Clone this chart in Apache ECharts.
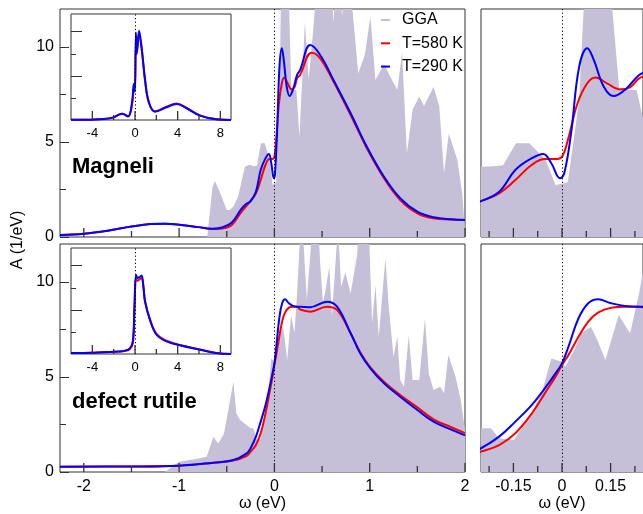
<!DOCTYPE html>
<html>
<head>
<meta charset="utf-8">
<script src="https://cdn.jsdelivr.net/npm/echarts@6/dist/echarts.min.js"></script>
<style>
html,body{margin:0;padding:0;background:#fff;}
#c{width:643px;height:514px;}
</style>
</head>
<body>
<div id="c"></div>
<script>
// ---------- DATA ----------
// Magneli, main panels
const magGGA_x = [-2.25, -0.705, -0.65, -0.625, -0.575, -0.5, -0.47, -0.43, -0.38, -0.31, -0.26, -0.25, -0.21, -0.182, -0.142, -0.101, -0.05, -0.02, 0, 0.018, 0.035, 0.053, 0.063, 0.07, 0.15, 0.177, 0.23, 0.263, 0.32, 0.36, 0.4, 0.44, 0.6, 0.62, 0.64, 0.69, 0.71, 0.73, 0.8, 0.88, 0.95, 1.007, 1.06, 1.15, 1.22, 1.29, 1.34, 1.39, 1.45, 1.52, 1.57, 1.6, 1.67, 1.73, 1.78, 1.83, 1.92, 1.97, 2.0];
const magGGA_y = [0, 0, 2.6, 2.95, 2.4, 1.42, 1.42, 1.6, 2.14, 3.7, 3.8, 3.7, 3.72, 3.78, 4.93, 4.93, 4.05, 2.74, 2.8, 2.9, 5.0, 7.2, 10.7, 13, 13, 7.74, 7.74, 5.28, 11.3, 8.3, 10.5, 13, 13, 11.3, 13, 13, 11.6, 13, 13, 8.6, 9.6, 11.6, 8.26, 9.1, 8.4, 7.74, 9.7, 4.4, 6.7, 7.4, 6.9, 7.2, 7.9, 6.9, 3.35, 5.45, 4.05, 2.3, 0.37];
const mag290_x = [-2.25, -2.0, -1.75, -1.5, -1.3, -1.15, -1.0, -0.8, -0.65, -0.55, -0.45, -0.35, -0.3, -0.25, -0.194, -0.144, -0.094, -0.058, -0.033, -0.006, 0.007, 0.028, 0.053, 0.078, 0.098, 0.129, 0.159, 0.199, 0.238, 0.27, 0.376, 0.48, 0.62, 0.8, 0.97, 1.15, 1.32, 1.5, 1.67, 1.85, 2.0];
const mag290_y = [0.1, 0.17, 0.33, 0.55, 0.68, 0.7, 0.65, 0.52, 0.44, 0.5, 0.75, 1.45, 1.72, 1.89, 2.38, 3.53, 4.14, 4.37, 3.88, 3.09, 3.35, 5.46, 8.96, 9.93, 9.32, 7.91, 7.42, 7.82, 8.53, 8.79, 10.1, 9.58, 8.26, 6.51, 4.75, 3.17, 2.04, 1.33, 1.04, 0.93, 0.9];
const mag580_x = [-2.25, -2.0, -1.75, -1.5, -1.3, -1.15, -1.0, -0.8, -0.65, -0.55, -0.45, -0.35, -0.3, -0.25, -0.194, -0.144, -0.094, -0.052, -0.021, 0, 0.018, 0.048, 0.078, 0.103, 0.139, 0.18, 0.21, 0.238, 0.27, 0.39, 0.48, 0.62, 0.8, 0.97, 1.15, 1.32, 1.5, 1.67, 1.85, 2.0];
const mag580_y = [0.1, 0.17, 0.33, 0.55, 0.68, 0.7, 0.65, 0.52, 0.42, 0.45, 0.62, 1.3, 1.6, 1.89, 2.3, 3.0, 3.79, 4.1, 4.1, 4.23, 5.1, 7.04, 8.09, 8.4, 8.09, 7.77, 7.88, 8.35, 8.53, 9.7, 9.4, 8.18, 6.42, 4.67, 3.09, 1.95, 1.25, 0.98, 0.92, 0.9];
// Magneli, inset
const magIns_x = [-6, -4, -3, -2, -1.6, -1.2, -0.65, -0.3, -0.1, 0, 0.08, 0.17, 0.38, 0.62, 0.95, 1.3, 1.87, 2.96, 3.9, 4.84, 6.1, 7.4, 9];
const magIns290_y = [0.02, 0.04, 0.1, 0.3, 0.55, 0.7, 0.42, 1.8, 4.1, 3.2, 9.9, 7.5, 10.1, 8.2, 4.5, 2.0, 0.94, 1.44, 1.82, 1.33, 0.49, 0.11, 0.01];
const magIns580_y = [0.02, 0.04, 0.1, 0.3, 0.55, 0.7, 0.4, 1.6, 3.8, 4.2, 8.1, 7.9, 9.7, 8.1, 4.4, 2.0, 1.0, 1.52, 1.86, 1.36, 0.52, 0.13, 0.01];
// Defect rutile, main panels
const rutGGA_x = [-2.25, -1.15, -1.0, -0.78, -0.71, -0.64, -0.59, -0.53, -0.43, -0.40, -0.36, -0.25, -0.22, -0.194, -0.149, -0.093, -0.063, -0.033, 0.0, 0.01, 0.038, 0.059, 0.089, 0.109, 0.134, 0.175, 0.21, 0.238, 0.27, 0.30, 0.34, 0.40, 0.46, 0.48, 0.51, 0.534, 0.576, 0.604, 0.667, 0.70, 0.744, 0.8, 0.87, 0.88, 0.99, 1.025, 1.06, 1.095, 1.165, 1.2, 1.25, 1.29, 1.32, 1.36, 1.41, 1.45, 1.52, 1.58, 1.62, 1.67, 1.74, 1.78, 1.825, 1.9, 1.955, 2.0];
const rutGGA_y = [0, 0, 0.54, 0.72, 0.81, 1.86, 1.5, 2.0, 4.75, 3.09, 2.74, 2.3, 2.3, 1.77, 1.68, 3.09, 4.14, 5.98, 5.8, 5.54, 6.42, 7.3, 7.65, 6.95, 5.89, 8.26, 7.3, 9.4, 12.5, 12.5, 9.05, 13, 13, 11.0, 8.9, 9.5, 10.8, 8.2, 13, 9.75, 10.5, 9.4, 11.5, 13, 13, 7.82, 9.84, 7.12, 11.25, 8.7, 6.07, 7.12, 4.84, 4.49, 7.2, 4.84, 4.84, 8.09, 5.19, 4.32, 4.49, 4.14, 6.16, 5.02, 3.79, 2.2];
const rut_x = [-2.25, -1.5, -1.0, -0.64, -0.43, -0.29, -0.25, -0.194, -0.144, -0.093, -0.053, -0.02, 0, 0.02, 0.051, 0.081, 0.111, 0.152, 0.193, 0.238, 0.27, 0.376, 0.55, 0.657, 0.80, 0.90, 1.007, 1.15, 1.32, 1.5, 1.67, 1.85, 2.0];
const rut290_y = [0.28, 0.29, 0.33, 0.49, 0.63, 0.98, 1.25, 1.86, 2.65, 3.53, 4.4, 5.19, 5.72, 6.6, 8.09, 8.88, 9.09, 8.88, 8.74, 8.7, 8.7, 8.67, 8.96, 8.7, 7.3, 6.25, 5.46, 4.67, 3.96, 3.26, 2.65, 2.24, 1.93];
const rut580_y = [0.28, 0.29, 0.33, 0.49, 0.6, 0.85, 1.07, 1.42, 2.04, 3.09, 4.14, 5.02, 5.63, 6.16, 7.12, 7.91, 8.39, 8.65, 8.7, 8.7, 8.55, 8.44, 8.7, 8.53, 7.3, 6.3, 5.5, 4.75, 4.05, 3.4, 2.77, 2.37, 2.05];
// Defect rutile, inset
const rutIns_x = [-6, -4, -2.3, -1, -0.5, -0.2, -0.05, 0.1, 0.25, 0.47, 0.62, 0.8, 0.94, 1.4, 2.03, 2.96, 4.2, 6.1, 7.6, 9];
const rutIns290_y = [0.1, 0.15, 0.23, 0.35, 0.6, 1.5, 5.5, 8.93, 8.6, 8.75, 8.9, 7.5, 5.93, 3.87, 2.18, 1.43, 0.98, 0.49, 0.11, 0.0];
const rutIns580_y = [0.1, 0.15, 0.23, 0.35, 0.55, 1.2, 5.0, 8.5, 8.3, 8.5, 8.6, 7.5, 6.0, 3.95, 2.25, 1.5, 1.02, 0.5, 0.12, 0.0];
// Tick values
const mainTicksX = [-2, -1, 0, 1, 2];
const mainMinorX = [-1.5, -0.5, 0.5, 1.5];
const mainTicksY = [0, 5, 10];
const mainMinorY = [2.5, 7.5];
const zoomTicksX = [-0.15, 0, 0.15];
const zoomMinorX = [-0.225, -0.075, 0.075, 0.225];
const insTicksX = [-4, 0, 4, 8];
const insMinorX = [-2, 2, 6];
const insTicksY = [5, 10];
const insMinorY = [2.5, 7.5];
const seriesNames = ['GGA', 'T=580 K', 'T=290 K'];
const panelNames = ['Magneli', 'defect rutile'];

// ---------- CHART ----------
const FONT = '"Liberation Sans", Arial, Helvetica, sans-serif';
const GGA_COLOR = '#c5bfd8';
const pts = (xs, ys) => xs.map((x, i) => [x, ys[i]]);

const grids = [
  {left: 60, top: 9, width: 405, height: 228},     // 0 top-left
  {left: 60, top: 244, width: 405, height: 228},   // 1 bottom-left
  {left: 481, top: 9, width: 165, height: 228},    // 2 top-right
  {left: 481, top: 244, width: 165, height: 228},  // 3 bottom-right
  {left: 71, top: 14, width: 160, height: 106},    // 4 top inset
  {left: 71, top: 248, width: 160, height: 106}    // 5 bottom inset
].map(g => Object.assign({show: true, borderColor: '#333', borderWidth: 1, backgroundColor: '#fff', containLabel: false}, g));

function ax(dim, grid, min, max, ticks, len, labels, fs, extra) {
  const a = {
    type: 'value', gridIndex: grid, min: min, max: max,
    position: dim === 'x' ? 'bottom' : 'left', offset: 0, z: 10,
    axisLine: {show: false, onZero: false},
    splitLine: {show: false},
    axisTick: {show: dim === 'y' && ticks.length > 0, inside: true, length: len, customValues: ticks,
               lineStyle: {color: '#333', width: 1}},
    axisLabel: {show: labels, customValues: ticks, color: '#000', fontSize: fs || 16, fontFamily: FONT,
                margin: dim === 'x' ? 7 : 6}
  };
  return Object.assign(a, extra || {});
}
const nameOpt = {name: 'ω (eV)', nameLocation: 'middle', nameGap: 24,
  nameTextStyle: {color: '#000', fontSize: 16, fontFamily: FONT}};

const xAxis = [
  ax('x', 0, -2.25, 2, mainTicksX, 9, false),
  ax('x', 1, -2.25, 2, mainTicksX, 9, true, 16, nameOpt),
  ax('x', 2, -0.25, 0.25, zoomTicksX, 9, false),
  ax('x', 3, -0.25, 0.25, zoomTicksX, 9, true, 16, nameOpt),
  ax('x', 4, -6, 9, insTicksX, 9, true, 13),
  ax('x', 5, -6, 9, insTicksX, 9, true, 13)
];
const yAxis = [
  ax('y', 0, 0, 12, mainTicksY, 9, true), ax('y', 0, 0, 12, mainMinorY, 6, false),
  ax('y', 1, 0, 12, mainTicksY, 9, true), ax('y', 1, 0, 12, mainMinorY, 6, false),
  ax('y', 2, 0, 12, [], 0, false),
  ax('y', 3, 0, 12, [], 0, false),
  ax('y', 4, 0, 12, insTicksY, 11, false), ax('y', 4, 0, 12, insMinorY, 5, false),
  ax('y', 5, 0, 12, insTicksY, 11, false), ax('y', 5, 0, 12, insMinorY, 5, false)
];

const zeroLine = {
  symbol: ['none', 'none'], silent: true, animation: false, label: {show: false},
  emphasis: {disabled: true},
  lineStyle: {type: [1.2, 2.4], color: '#000', width: 1},
  data: [{xAxis: 0}]
};

function gga(xi, yi, data) {
  return {type: 'line', name: seriesNames[0], xAxisIndex: xi, yAxisIndex: yi, data: data,
    symbol: 'none', lineStyle: {width: 0, color: GGA_COLOR}, itemStyle: {color: GGA_COLOR},
    areaStyle: {color: GGA_COLOR, opacity: 1}, z: 1, markLine: zeroLine, clip: true};
}
function curve(name, color, xi, yi, data, mark) {
  const s = {type: 'line', name: name, xAxisIndex: xi, yAxisIndex: yi, data: data,
    symbol: 'none', smooth: 0.4, lineStyle: {width: 2, color: color}, itemStyle: {color: color},
    z: color === '#0000ff' ? 4 : 3, clip: true};
  if (mark) s.markLine = zeroLine;
  return s;
}
// inward x-axis ticks: small bars placed at the tick values on the axis scale
function ticks(xi, yi, values, len) {
  return {type: 'scatter', xAxisIndex: xi, yAxisIndex: yi, silent: true, clip: false, z: 8,
    data: values.map(v => [v, 0]), symbol: 'rect', symbolSize: [1.3, len], symbolOffset: [0, -len / 2],
    itemStyle: {color: '#333', opacity: 1}, emphasis: {disabled: true}, animation: false};
}

const series = [
  gga(0, 0, pts(magGGA_x, magGGA_y)),
  curve(seriesNames[1], '#ff0000', 0, 0, pts(mag580_x, mag580_y)),
  curve(seriesNames[2], '#0000ff', 0, 0, pts(mag290_x, mag290_y)),
  gga(1, 2, pts(rutGGA_x, rutGGA_y)),
  curve(seriesNames[1], '#ff0000', 1, 2, pts(rut_x, rut580_y)),
  curve(seriesNames[2], '#0000ff', 1, 2, pts(rut_x, rut290_y)),
  gga(2, 4, pts(magGGA_x, magGGA_y)),
  curve(seriesNames[1], '#ff0000', 2, 4, pts(mag580_x, mag580_y)),
  curve(seriesNames[2], '#0000ff', 2, 4, pts(mag290_x, mag290_y)),
  gga(3, 5, pts(rutGGA_x, rutGGA_y)),
  curve(seriesNames[1], '#ff0000', 3, 5, pts(rut_x, rut580_y)),
  curve(seriesNames[2], '#0000ff', 3, 5, pts(rut_x, rut290_y)),
  curve(seriesNames[1], '#ff0000', 4, 6, pts(magIns_x, magIns580_y), true),
  curve(seriesNames[2], '#0000ff', 4, 6, pts(magIns_x, magIns290_y)),
  curve(seriesNames[1], '#ff0000', 5, 8, pts(rutIns_x, rutIns580_y), true),
  curve(seriesNames[2], '#0000ff', 5, 8, pts(rutIns_x, rutIns290_y)),
  ticks(0, 0, mainTicksX, 9), ticks(0, 0, mainMinorX, 6),
  ticks(1, 2, mainTicksX, 9), ticks(1, 2, mainMinorX, 6),
  ticks(2, 4, zoomTicksX, 9), ticks(2, 4, zoomMinorX, 6),
  ticks(3, 5, zoomTicksX, 9), ticks(3, 5, zoomMinorX, 6),
  ticks(4, 6, insTicksX, 9), ticks(4, 6, insMinorX, 5),
  ticks(5, 8, insTicksX, 9), ticks(5, 8, insMinorX, 5)
];

const legendColors = [GGA_COLOR, '#ff0000', '#0000ff'];
const graphic = [];
seriesNames.forEach((n, i) => {
  const y = 20 + i * 23.3;
  graphic.push({type: 'line', shape: {x1: 381, y1: y, x2: 390, y2: y}, style: {stroke: legendColors[i], lineWidth: 2}, z: 10});
  graphic.push({type: 'text', x: 402, y: y, style: {text: n, fill: '#000', font: '16px ' + FONT, textVerticalAlign: 'middle'}, z: 10});
});
graphic.push({type: 'text', x: 72, y: 167, style: {text: panelNames[0], fill: '#000', font: 'bold 22px ' + FONT, textVerticalAlign: 'middle'}, z: 10});
graphic.push({type: 'text', x: 72, y: 402, style: {text: panelNames[1], fill: '#000', font: 'bold 22px ' + FONT, textVerticalAlign: 'middle'}, z: 10});
graphic.push({type: 'text', x: 18, y: 240, rotation: Math.PI / 2, style: {text: 'A (1/eV)', fill: '#000', font: '16px ' + FONT, textAlign: 'center', textVerticalAlign: 'middle'}, z: 10});

const chart = echarts.init(document.getElementById('c'), null, {renderer: 'canvas'});
chart.setOption({
  animation: false,
  backgroundColor: '#fff',
  grid: grids,
  xAxis: xAxis,
  yAxis: yAxis,
  series: series,
  graphic: graphic
});
</script>
</body>
</html>
